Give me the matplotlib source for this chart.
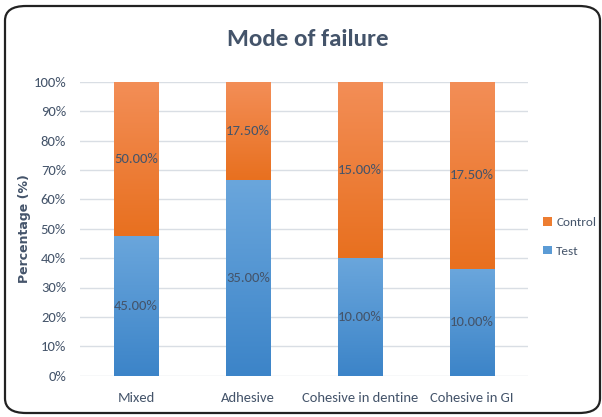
import numpy as np
import matplotlib
matplotlib.use("Agg")
import matplotlib.pyplot as plt
from matplotlib import font_manager
from matplotlib.patches import FancyBboxPatch, Patch
from matplotlib.colors import LinearSegmentedColormap

categories = ["Mixed", "Adhesive", "Cohesive in dentine", "Cohesive in GI"]
test_values = [45.0, 35.0, 10.0, 10.0]
control_values = [50.0, 17.5, 15.0, 17.5]
ytick_labels = ["0%", "10%", "20%", "30%", "40%", "50%", "60%", "70%", "80%", "90%", "100%"]

available = {f.name for f in font_manager.fontManager.ttflist}
family = "Lato"
for cand in ["Carlito", "Liberation Sans Narrow", "Lato"]:
    if cand in available:
        family = cand
        break
plt.rcParams["font.family"] = [family, "DejaVu Sans"]

text_col = "#44546A"
grid_col = "#D9DEE4"

fig = plt.figure(figsize=(6.02, 4.17), dpi=100)
fig.patch.set_facecolor("white")

# rounded frame around the whole chart
frame = FancyBboxPatch((5/602, 4/417), 595/602, 407/417,
                       boxstyle="round,pad=0,rounding_size=0.035",
                       transform=fig.transFigure, facecolor="none",
                       edgecolor="#222222", linewidth=1.6, zorder=-5)
fig.patches.append(frame)

ax = fig.add_axes([80/602, 1 - 375.7/417, 448/602, 294/417])
ax.set_facecolor("none")

test = np.array(test_values)
control = np.array(control_values)
total = test + control
test_pct = test / total * 100
control_pct = control / total * 100

x = np.arange(len(categories))
width = 0.40

blue_cmap = LinearSegmentedColormap.from_list("b", ["#3C84C8", "#6AA6DC"])
orange_cmap = LinearSegmentedColormap.from_list("o", ["#E8701F", "#F38E57"])

def gradient_bars(bars, cmap):
    for b in bars:
        x0, y0 = b.get_x(), b.get_y()
        w, h = b.get_width(), b.get_height()
        grad = np.linspace(0, 1, 256).reshape(-1, 1)
        im = ax.imshow(grad, cmap=cmap, origin="lower", aspect="auto",
                       extent=(x0, x0 + w, y0, y0 + h), zorder=3)
        im.set_clip_path(b)
        b.set_facecolor("none")
        b.set_edgecolor("none")

bars_test = ax.bar(x, test_pct, width, color="#5B9BD5", label="Test", zorder=2)
bars_ctrl = ax.bar(x, control_pct, width, bottom=test_pct, color="#ED7D31",
                   label="Control", zorder=2)
gradient_bars(bars_test, blue_cmap)
gradient_bars(bars_ctrl, orange_cmap)

for i in range(len(categories)):
    ax.text(x[i], test_pct[i] / 2, f"{test[i]:.2f}%", ha="center", va="center",
            fontsize=10.5, color=text_col, zorder=5)
    ax.text(x[i], test_pct[i] + control_pct[i] / 2, f"{control[i]:.2f}%",
            ha="center", va="center", fontsize=10.5, color=text_col, zorder=5)

ax.set_xlim(-0.5, len(categories) - 0.5)
ax.set_ylim(0, 100)
ax.set_yticks(np.arange(0, 101, 10))
ax.set_yticklabels(ytick_labels)
ax.set_xticks(x)
ax.set_xticklabels(categories)
ax.tick_params(axis="both", length=0, labelsize=10.5, colors=text_col)
ax.tick_params(axis="x", pad=12)
ax.tick_params(axis="y", pad=10)
ax.grid(axis="y", color=grid_col, linewidth=1.0, zorder=0)
ax.set_axisbelow(True)
for s in ax.spines.values():
    s.set_visible(False)

ax.set_ylabel("Percentage (%)", fontsize=9, fontweight="bold", color=text_col,
              family=["DejaVu Sans"])
ax.yaxis.set_label_coords((31 - 80) / 448, 0.5)

fig.text(308/602, 1 - 40/417, "Mode of failure", ha="center", va="center",
         fontsize=18, fontweight="bold", color=text_col)

fig.legend([Patch(facecolor="#ED7D31"), Patch(facecolor="#5B9BD5")],
           ["Control", "Test"], loc="center left",
           bbox_to_anchor=(543/602, 1 - 237/417), frameon=False,
           fontsize=9.5, handlelength=0.65, handleheight=0.65,
           handletextpad=0.35, labelspacing=1.3, labelcolor=text_col,
           borderaxespad=0, borderpad=0)

fig.savefig("out.png", dpi=100)
